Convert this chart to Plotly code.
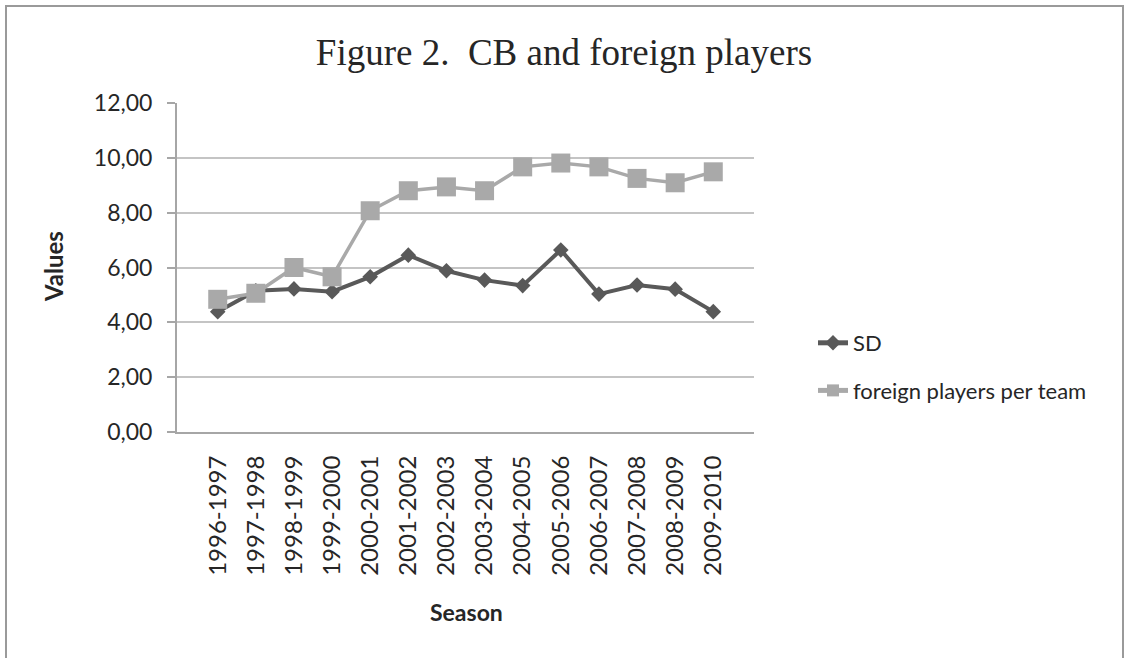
import plotly.graph_objects as go

# Seasons on the category axis
seasons = ["1996-1997", "1997-1998", "1998-1999", "1999-2000", "2000-2001",
           "2001-2002", "2002-2003", "2003-2004", "2004-2005", "2005-2006",
           "2006-2007", "2007-2008", "2008-2009", "2009-2010"]

# Competitive balance (standard deviation) per season
sd_values = [4.39, 5.15, 5.22, 5.12, 5.66, 6.45, 5.88,
             5.54, 5.34, 6.64, 5.03, 5.36, 5.21, 4.39]

# Average number of foreign players per team
foreign_values = [4.84, 5.06, 6.00, 5.66, 8.07, 8.80, 8.94,
                  8.80, 9.67, 9.81, 9.67, 9.25, 9.09, 9.49]

y_ticks = [0, 2, 4, 6, 8, 10, 12]

W, H = 1127, 658
PL, PR, PT, PB = 177, 754, 103, 432   # plot area in pixels
pw, ph = PR - PL, PB - PT

def px_x(v):
    return (v - PL) / pw

def px_y(v):
    return (PB - v) / ph

sans = "Lato, 'Open Sans', sans-serif"
text_col = "#262626"

fig = go.Figure()
fig.add_trace(go.Scatter(
    x=seasons, y=sd_values, name="SD", mode="lines+markers",
    line=dict(color="#595959", width=4),
    marker=dict(symbol="diamond", size=12, color="#595959"),
    legendgroup="a",
))
fig.add_trace(go.Scatter(
    x=seasons, y=foreign_values, name="foreign players per team",
    mode="lines+markers",
    line=dict(color="#a9a9a9", width=3.5),
    marker=dict(symbol="square", size=19, color="#a9a9a9"),
    legendgroup="b",
))

fig.update_layout(
    width=W, height=H,
    margin=dict(l=PL, r=W - PR, t=PT, b=H - PB),
    paper_bgcolor="white", plot_bgcolor="white",
    separators=",.",
    font=dict(family=sans, size=23, color=text_col),
    title=dict(text="Figure 2.  CB and foreign players",
               font=dict(family="'Liberation Serif', 'Times New Roman', serif",
                         size=37, color="#262626"),
               xref="container", yref="container",
               x=564 / W, y=1 - 52 / H, xanchor="center", yanchor="middle"),
    showlegend=True,
    legend=dict(x=px_x(813), y=px_y(322), xanchor="left", yanchor="top",
                font=dict(family=sans, size=22, color=text_col),
                traceorder="grouped", tracegroupgap=16,
                bgcolor="rgba(0,0,0,0)", itemsizing="constant"),
    xaxis=dict(type="category", categoryorder="array", categoryarray=seasons,
               tickangle=-90, tickfont=dict(family=sans, size=24, color=text_col),
               ticklabelstandoff=12,
               showline=True, linecolor="#a6a6a6", linewidth=2,
               showgrid=False, ticks="", ticklen=0, zeroline=False),
    yaxis=dict(range=[0, 12], tickvals=y_ticks, tickformat=".2f",
               tickfont=dict(family=sans, size=23, color=text_col),
               ticklabelstandoff=10,
               showline=True, linecolor="#a6a6a6", linewidth=2,
               ticks="outside", ticklen=8, tickcolor="#a6a6a6", tickwidth=2,
               showgrid=True, gridcolor="#c4c4c4", gridwidth=2,
               zeroline=False),
    annotations=[
        dict(text="<b>Values</b>", xref="paper", yref="paper",
             x=px_x(53), y=px_y(267), textangle=-90, showarrow=False,
             font=dict(family=sans, size=24, color=text_col),
             xanchor="center", yanchor="middle"),
        dict(text="<b>Season</b>", xref="paper", yref="paper",
             x=px_x(466), y=px_y(612), showarrow=False,
             font=dict(family=sans, size=23, color=text_col),
             xanchor="center", yanchor="middle"),
    ],
    shapes=[
        # outer chart frame
        dict(type="rect", xref="paper", yref="paper",
             x0=px_x(6), x1=px_x(1123), y0=px_y(700), y1=px_y(6),
             line=dict(color="#9a9a9a", width=2), fillcolor="rgba(0,0,0,0)",
             layer="above"),
    ],
)

fig.write_html("out.html")
